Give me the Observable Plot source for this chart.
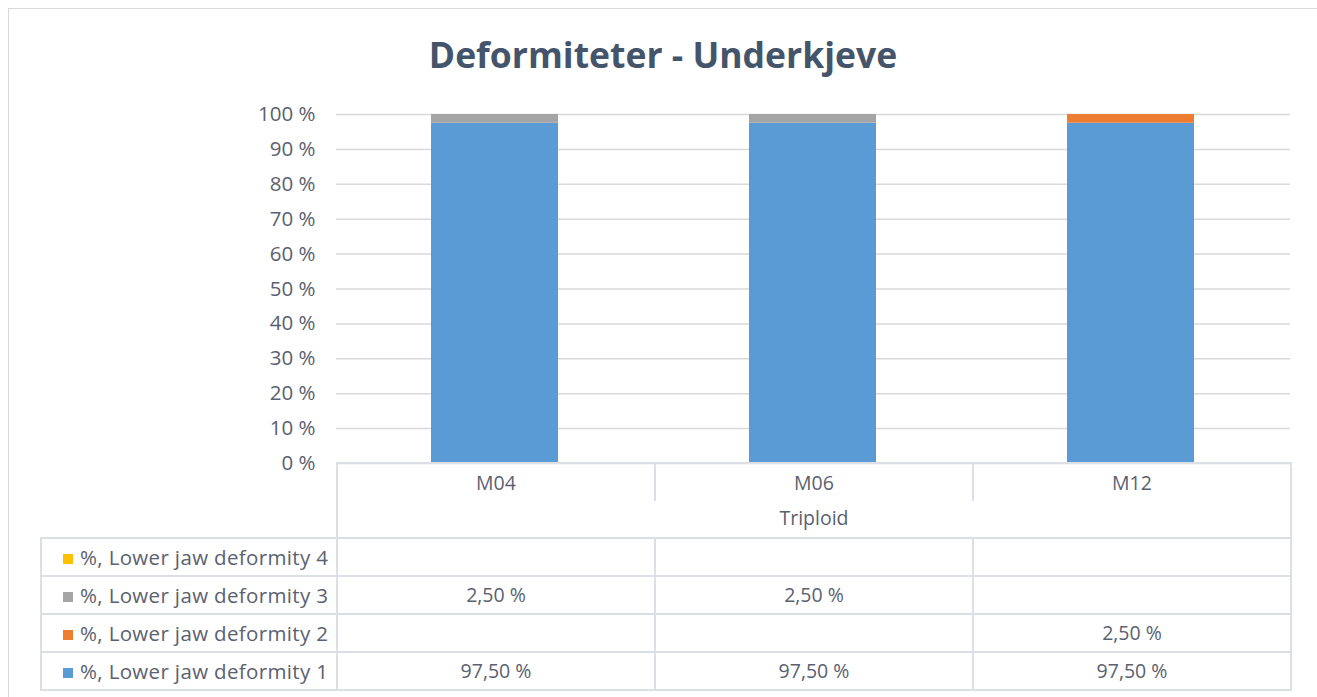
<!DOCTYPE html>
<html><head><meta charset="utf-8">
<script src="https://cdn.jsdelivr.net/npm/d3@7"></script>
<script src="https://cdn.jsdelivr.net/npm/@observablehq/plot@0.6"></script>
<style>
body{margin:0;background:#fff;font-family:"Open Sans",Lato,sans-serif;}
#wrap{position:relative;width:1317px;height:697px;overflow:hidden;background:#fff;}
#frame{position:absolute;left:8px;top:8px;width:1320px;height:700px;border:1px solid #D9D9D9;box-sizing:border-box;}
#title{position:absolute;left:8px;width:1310px;top:31px;text-align:center;font-weight:bold;font-size:35.5px;line-height:46px;color:#44546A;}
#chart{position:absolute;left:0;top:0;}
#tbl{position:absolute;left:40px;top:462px;border-collapse:collapse;table-layout:fixed;color:#5A6170;font-size:19.5px;}
#tbl td{border:2px solid #DCE0E6;text-align:center;padding:0;line-height:24px;}
#tbl td.leg{text-align:left;padding-left:21px;white-space:nowrap;font-size:20.5px;letter-spacing:0.35px;}
.sw{display:inline-block;width:10px;height:10px;margin-right:7px;vertical-align:1px;}
</style>
</head><body>
<div id="wrap">
  <div id="frame"></div>
  <div id="chart"></div>
  <div id="title"></div>
  <table id="tbl"></table>
</div>
<script>
const title = "Deformiteter - Underkjeve";
const categories = ["M04", "M06", "M12"];
const groupLabel = "Triploid";
const series = ["%, Lower jaw deformity 1", "%, Lower jaw deformity 2", "%, Lower jaw deformity 3", "%, Lower jaw deformity 4"];
const colors = ["#5B9BD5", "#ED7D31", "#A5A5A5", "#FFC000"];
const deformity1 = [97.5, 97.5, 97.5];
const deformity2 = [null, null, 2.5];
const deformity3 = [2.5, 2.5, null];
const deformity4 = [null, null, null];
const yTicks = [0, 10, 20, 30, 40, 50, 60, 70, 80, 90, 100];

const seriesValues = [deformity1, deformity2, deformity3, deformity4];
const data = [];
categories.forEach((c, i) => series.forEach((s, j) => {
  const v = seriesValues[j][i];
  if (v != null) data.push({cat: c, series: s, value: v});
}));

document.getElementById("title").textContent = title;

const chart = Plot.plot({
  width: 1317, height: 485,
  marginLeft: 336, marginRight: 27, marginTop: 114, marginBottom: 22,
  x: {domain: categories, paddingInner: 0.6, paddingOuter: 0.3, axis: null},
  y: {domain: [0, 100], ticks: yTicks, tickFormat: d => d + " %", tickSize: 0, tickPadding: 21, label: null},
  color: {domain: series, range: colors},
  style: {fontFamily: "'Open Sans', Lato, sans-serif", fontSize: "20.5px", color: "#5A6170", background: "transparent"},
  marks: [
    Plot.ruleY(yTicks, {stroke: "#D9D9D9", strokeWidth: 1.5}),
    Plot.barY(data, {x: "cat", y: "value", fill: "series", order: series})
  ]
});
document.getElementById("chart").appendChild(chart);

// data table
const fmt = v => v == null ? "" : v.toFixed(2).replace(".", ",") + " %";
const tbl = document.getElementById("tbl");
const colg = document.createElement("colgroup");
[296, 318, 318, 318].forEach(w => { const c = document.createElement("col"); c.style.width = w + "px"; colg.appendChild(c); });
tbl.appendChild(colg);
// category row
let tr = document.createElement("tr"); tr.style.height = "38px";
let td = document.createElement("td"); td.style.border = "none"; tr.appendChild(td);
categories.forEach(c => { const t = document.createElement("td"); t.textContent = c; t.style.borderBottom = "none"; t.style.verticalAlign = "top"; t.style.paddingTop = "7px"; tr.appendChild(t); });
tbl.appendChild(tr);
// group row
tr = document.createElement("tr"); tr.style.height = "37px";
td = document.createElement("td"); td.style.border = "none"; tr.appendChild(td);
td = document.createElement("td"); td.colSpan = categories.length; td.textContent = groupLabel; td.style.borderTop = "none"; td.style.verticalAlign = "top"; td.style.paddingTop = "5px"; tr.appendChild(td);
tbl.appendChild(tr);
// series rows (top to bottom: 4 -> 1)
for (let j = series.length - 1; j >= 0; j--) {
  tr = document.createElement("tr"); tr.style.height = "38px";
  td = document.createElement("td"); td.className = "leg";
  const sw = document.createElement("span"); sw.className = "sw"; sw.style.background = colors[j];
  td.appendChild(sw); td.appendChild(document.createTextNode(series[j]));
  tr.appendChild(td);
  categories.forEach((c, i) => { const t = document.createElement("td"); t.textContent = fmt(seriesValues[j][i]); tr.appendChild(t); });
  tbl.appendChild(tr);
}
</script>
</body></html>
